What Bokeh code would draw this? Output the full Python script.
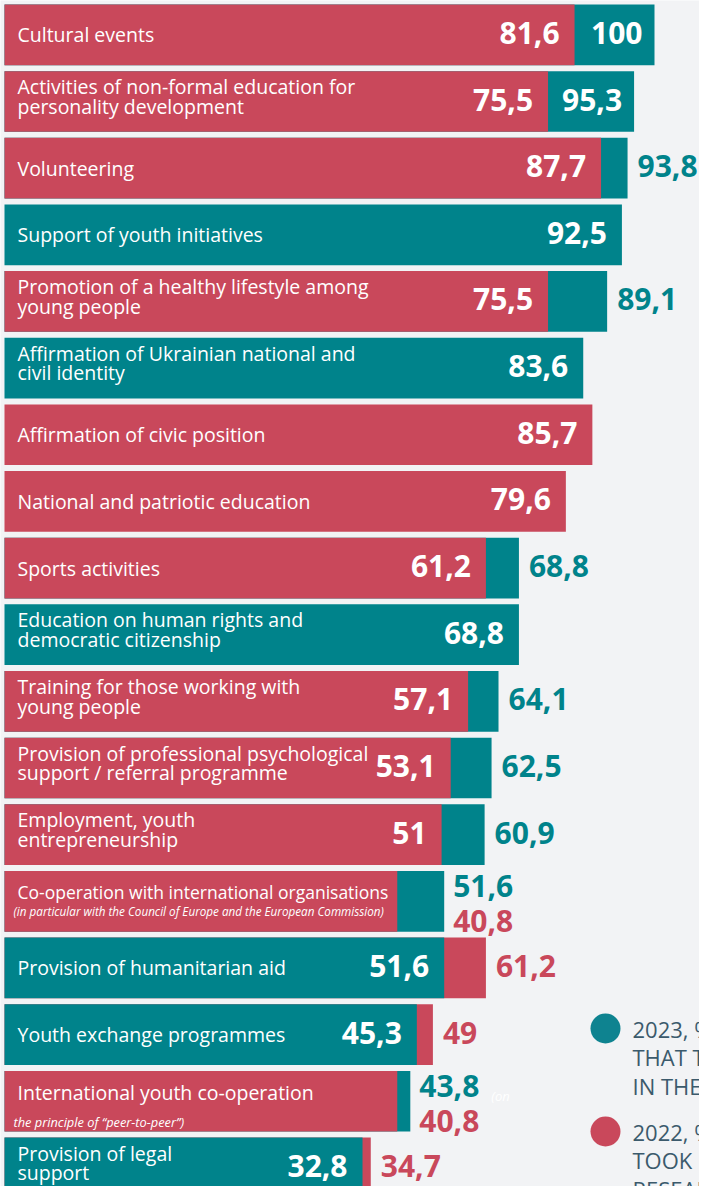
import math
from bokeh.plotting import figure
from bokeh.models import Range1d, ColumnDataSource
from bokeh.embed import file_html
from bokeh.resources import INLINE
from bokeh.core.properties import value

NAN = float("nan")

# ---------------- data ----------------
categories = [
    "Cultural events",
    "Activities of non-formal education for\npersonality development",
    "Volunteering",
    "Support of youth initiatives",
    "Promotion of a healthy lifestyle among\nyoung people",
    "Affirmation of Ukrainian national and\ncivil identity",
    "Affirmation of civic position",
    "National and patriotic education",
    "Sports activities",
    "Education on human rights and\ndemocratic citizenship",
    "Training for those working with\nyoung people",
    "Provision of professional psychological\nsupport / referral programme",
    "Employment, youth\nentrepreneurship",
    "Co-operation with international organisations",
    "Provision of humanitarian aid",
    "Youth exchange programmes",
    "International youth co-operation",
    "Provision of legal\nsupport",
]
category_notes = [
    "", "", "", "", "", "", "", "", "", "", "", "", "",
    "(in particular with the Council of Europe and the European Commission)",
    "", "",
    "the principle of \u201cpeer-to-peer\u201d)",
    "",
]
overflow_notes = ["", "", "", "", "", "", "", "", "", "", "", "", "", "", "", "", "(on", ""]

values_2023 = [100, 95.3, 93.8, 92.5, 89.1, 83.6, NAN, NAN, 68.8, 68.8,
               64.1, 62.5, 60.9, 51.6, 51.6, 45.3, 43.8, 32.8]
values_2022 = [81.6, 75.5, 87.7, NAN, 75.5, NAN, 85.7, 79.6, 61.2, NAN,
               57.1, 53.1, 51, 40.8, 61.2, 49, 40.8, 34.7]

series_names = ["2023", "2022"]
legend_lines = [
    ["2023, % OF YOUTH CENTRES", "THAT TOOK PART", "IN THE RESEARCH"],
    ["2022, % OF YOUTH CENTRES THAT", "TOOK PART IN THE", "RESEARCH"],
]

# ---------------- style / layout ----------------
TEAL = "#00838b"
RED = "#c9485b"
LEG_TEAL = "#0e8390"
BG = "#f2f3f5"
LEG_TEXT = "#3b5a6c"
FONT = "Open Sans"
colors = [TEAL, RED]

FIG_W, FIG_H, MARGIN = 699, 1186, 8
PX0 = 227.5       # page x of value 0
PXU = 4.345       # px per unit
BAR_BASE_PX = 12  # page x where bars start
ROW0 = 42.35      # page y of first row centre
PITCH = 66.65
BAR_H_PX = 60.7
VAL_YOFF = -2

STACKED_ROWS = {13, 16}
NOTE_YOFF = {13: 10, 16: 21}
NOTE_SIZE = {13: "11.7px", 16: "12.8px"}
LABEL_SIZE_OVERRIDE = {13: "17.5px"}


def px_x(px):
    return (px - PX0) / PXU


def px_y(py):
    return (py - ROW0) / PITCH


def fmt(v):
    if float(v).is_integer():
        return str(int(v))
    return ("%.1f" % v).replace(".", ",")


def ok(v):
    return v is not None and not math.isnan(v)


x_range = Range1d(px_x(MARGIN), px_x(MARGIN + FIG_W))
y_range = Range1d(px_y(MARGIN + FIG_H), px_y(MARGIN))
bar_left = px_x(BAR_BASE_PX)
bar_h = BAR_H_PX / PITCH

p = figure(width=FIG_W, height=FIG_H, x_range=x_range, y_range=y_range,
           output_backend="svg", toolbar_location=None, min_border=0,
           background_fill_color=BG, border_fill_color=BG, outline_line_color=None)
p.axis.visible = False
p.grid.visible = False

long_d = dict(y=[], right=[], color=[])
short_d = dict(y=[], right=[], color=[])
inside_d = dict(x=[], y=[], text=[], xo=[])
out_d = dict(x=[], y=[], text=[], color=[], xo=[], yo=[])

for i in range(len(categories)):
    vals = [(values_2023[i], colors[0], 0), (values_2022[i], colors[1], 1)]
    vals = [v for v in vals if ok(v[0])]
    if len(vals) == 1:
        v, c, _ = vals[0]
        long_d["y"].append(i); long_d["right"].append(v); long_d["color"].append(c)
        inside_d["x"].append(v); inside_d["y"].append(i); inside_d["text"].append(fmt(v)); inside_d["xo"].append(-15)
        continue
    big = max(vals, key=lambda t: t[0])
    small = min(vals, key=lambda t: t[0])
    long_d["y"].append(i); long_d["right"].append(big[0]); long_d["color"].append(big[1])
    short_d["y"].append(i); short_d["right"].append(small[0]); short_d["color"].append(small[1])
    if i in STACKED_ROWS:
        for v, c, k in sorted(vals, key=lambda t: t[2]):
            out_d["x"].append(big[0]); out_d["y"].append(i); out_d["text"].append(fmt(v))
            out_d["color"].append(c); out_d["xo"].append(9); out_d["yo"].append(-15 if k == 0 else 20)
        continue
    inside_d["x"].append(small[0]); inside_d["y"].append(i); inside_d["text"].append(fmt(small[0])); inside_d["xo"].append(-15)
    if (big[0] - small[0]) * PXU > 75:
        inside_d["x"].append(big[0]); inside_d["y"].append(i); inside_d["text"].append(fmt(big[0])); inside_d["xo"].append(-12)
    else:
        out_d["x"].append(big[0]); out_d["y"].append(i); out_d["text"].append(fmt(big[0]))
        out_d["color"].append(big[1]); out_d["xo"].append(10); out_d["yo"].append(VAL_YOFF)

p.hbar(y="y", left=bar_left, right="right", height=bar_h, fill_color="color",
       line_color=None, source=ColumnDataSource(long_d))
p.hbar(y="y", left=bar_left, right="right", height=bar_h, fill_color="color",
       line_color=None, source=ColumnDataSource(short_d))

# category labels
lab = dict(x=[], y=[], text=[], yo=[], size=[])
for i, c in enumerate(categories):
    lab["x"].append(bar_left); lab["y"].append(i); lab["text"].append(c)
    lab["yo"].append(-5 if "\n" in c else (-9 if category_notes[i] else 0))
    lab["size"].append(LABEL_SIZE_OVERRIDE.get(i, "19.5px"))
p.text(x="x", y="y", text="text", y_offset="yo", x_offset=13, text_font_size="size",
       text_font=value(FONT), text_color="white", text_baseline="middle",
       text_align="left", text_line_height=0.73, source=ColumnDataSource(lab))

notes = dict(x=[], y=[], text=[], yo=[], size=[])
for i, n in enumerate(category_notes):
    if n:
        notes["x"].append(bar_left); notes["y"].append(i); notes["text"].append(n)
        notes["yo"].append(NOTE_YOFF.get(i, 12)); notes["size"].append(NOTE_SIZE.get(i, "12px"))
p.text(x="x", y="y", text="text", y_offset="yo", x_offset=9, text_font_size="size",
       text_font=value(FONT), text_font_style="italic", text_color="white",
       text_baseline="middle", text_align="left", source=ColumnDataSource(notes))

ov = dict(x=[], y=[], text=[])
for i, n in enumerate(overflow_notes):
    if n:
        big = max(v for v in (values_2023[i], values_2022[i]) if ok(v))
        ov["x"].append(big); ov["y"].append(i); ov["text"].append(n)
p.text(x="x", y="y", text="text", x_offset=81, y_offset=-5, text_font_size="13px",
       text_font=value(FONT), text_font_style="italic", text_color="white",
       text_baseline="middle", text_align="left", source=ColumnDataSource(ov))

# value labels
p.text(x="x", y="y", text="text", x_offset="xo", y_offset=VAL_YOFF, text_font_size="30px",
       text_font=value(FONT), text_font_style="bold", text_color="white",
       text_baseline="middle", text_align="right", source=ColumnDataSource(inside_d))
p.text(x="x", y="y", text="text", x_offset="xo", y_offset="yo", text_font_size="30px",
       text_font=value(FONT), text_font_style="bold", text_color="color",
       text_baseline="middle", text_align="left", source=ColumnDataSource(out_d))

# legend
LEG_CX, LEG_TX = 613, 640
LEG_Y = [1036, 1139]
LEG_LS = 28.5
leg_colors = [LEG_TEAL, RED]
p.scatter(x=[px_x(LEG_CX)] * 2, y=[px_y(y) for y in LEG_Y], size=30,
          fill_color=leg_colors, line_color=None, marker="circle")
lt = dict(x=[], y=[], text=[])
for k, lines in enumerate(legend_lines):
    for j, t in enumerate(lines):
        lt["x"].append(px_x(LEG_TX)); lt["y"].append(px_y(LEG_Y[k] + j * LEG_LS)); lt["text"].append(t)
p.text(x="x", y="y", text="text", text_font_size="22px", text_font=value(FONT),
       text_color=LEG_TEXT, text_baseline="middle", text_align="left",
       source=ColumnDataSource(lt))

open("out.html", "w").write(file_html(p, INLINE))
